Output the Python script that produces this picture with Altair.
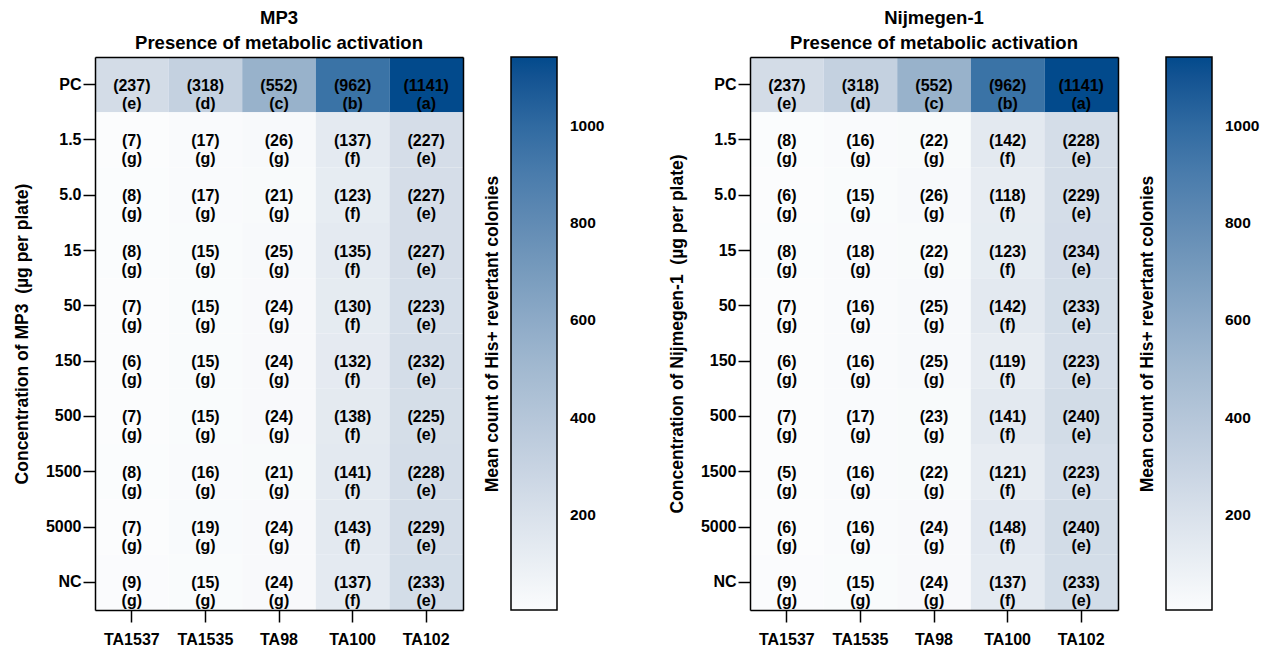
import altair as alt
import pandas as pd

strains = ["TA1537", "TA1535", "TA98", "TA100", "TA102"]
doses = ["PC", "1.5", "5.0", "15", "50", "150", "500", "1500", "5000", "NC"]

mp3_counts = [
    [237, 318, 552, 962, 1141],
    [7, 17, 26, 137, 227],
    [8, 17, 21, 123, 227],
    [8, 15, 25, 135, 227],
    [7, 15, 24, 130, 223],
    [6, 15, 24, 132, 232],
    [7, 15, 24, 138, 225],
    [8, 16, 21, 141, 228],
    [7, 19, 24, 143, 229],
    [9, 15, 24, 137, 233],
]

nij_counts = [
    [237, 318, 552, 962, 1141],
    [8, 16, 22, 142, 228],
    [6, 15, 26, 118, 229],
    [8, 18, 22, 123, 234],
    [7, 16, 25, 142, 233],
    [6, 16, 25, 119, 223],
    [7, 17, 23, 141, 240],
    [5, 16, 22, 121, 223],
    [6, 16, 24, 148, 240],
    [9, 15, 24, 137, 233],
]

pc_letters = ["e", "d", "c", "b", "a"]
dose_letters = ["g", "g", "g", "f", "e"]

color_domain = [5, 230, 552, 962, 1141]
color_range = ["#fbfcfd", "#d4dde8", "#98b2cb", "#3a73a6", "#024a8c"]
legend_values = [200, 400, 600, 800, 1000]

FONT = "Liberation Sans"


def panel(counts, name, substance):
    rows = []
    for i, d in enumerate(doses):
        letters = pc_letters if d == "PC" else dose_letters
        for j, s in enumerate(strains):
            rows.append({
                "dose": d,
                "strain": s,
                "count": counts[i][j],
                "lines": [f"({counts[i][j]})", f"({letters[j]})"],
            })
    df = pd.DataFrame(rows)
    base = alt.Chart(df)
    band = alt.Scale(paddingInner=0, paddingOuter=0)
    x = alt.X(
        "strain:N", sort=strains, scale=band,
        axis=alt.Axis(title=None, labelAngle=0, labelFont=FONT, labelFontSize=16,
                      labelFontWeight="bold", labelColor="black", tickColor="black",
                      tickSize=12, tickWidth=1.5, domain=True, domainColor="black",
                      domainWidth=1.5, labelPadding=9, zindex=1),
    )
    y = alt.Y(
        "dose:N", sort=doses, scale=band,
        axis=alt.Axis(title=f"Concentration of {substance}\u00a0 (µg per plate)",
                      titleFont=FONT, titleFontSize=17.5, titleFontWeight="bold",
                      titleColor="black", titlePadding=14,
                      labelFont=FONT, labelFontSize=16, labelFontWeight="bold",
                      labelColor="black", tickColor="black", tickSize=12,
                      tickWidth=1.5, domain=True, domainColor="black",
                      domainWidth=1.5, labelPadding=2, zindex=1),
    )
    x_top = alt.X("strain:N", sort=strains, scale=band,
                  axis=alt.Axis(orient="top", title="", labels=False, ticks=False,
                                domain=True, domainColor="black", domainWidth=1.5,
                                zindex=1))
    y_right = alt.Y("dose:N", sort=doses, scale=band,
                    axis=alt.Axis(orient="right", title="", labels=False,
                                  ticks=False, domain=True, domainColor="black",
                                  domainWidth=1.5, zindex=1))
    rect = base.mark_rect().encode(
        x=x, y=y,
        color=alt.Color(
            "count:Q",
            scale=alt.Scale(domain=color_domain, range=color_range, clamp=True),
            legend=alt.Legend(
                title="Mean count of His+ revertant colonies",
                orient="right", direction="vertical",
                gradientLength=553, gradientThickness=46,
                gradientStrokeColor="black", gradientStrokeWidth=1.5,
                values=legend_values, format="d",
                titleOrient="left", titleAnchor="middle", titleLimit=700,
                titleFont=FONT, titleFontSize=17.5, titleFontWeight="bold",
                titleColor="black", titlePadding=9,
                labelFont=FONT, labelFontSize=15.5, labelFontWeight="bold",
                labelColor="black", labelOffset=13, labelOverlap=False,
                offset=21,
            ),
        ),
    )
    txt = base.mark_text(dy=1, font=FONT, fontSize=16, fontWeight="bold",
                         color="black", baseline="middle", lineHeight=18).encode(
        x=x_top, y=y_right, text="lines:N")
    return alt.layer(rect, txt).resolve_axis(
        x="independent", y="independent"
    ).properties(
        width=368, height=553,
        title=alt.Title([name, "Presence of metabolic activation"],
                        font=FONT, fontSize=18.5, fontWeight="bold", color="black",
                        anchor="middle", frame="group", offset=5, lineHeight=25),
    )


left = panel(mp3_counts, "MP3", "MP3")
right = panel(nij_counts, "Nijmegen-1", "Nijmegen-1")

chart = alt.hconcat(left, right, spacing=61).resolve_scale(
    color="independent"
).properties(
    padding={"left": 4, "top": 0, "right": 0, "bottom": 0}
).configure_view(
    strokeWidth=0
).configure(font=FONT)

chart.save("out.html", embed_options={"renderer": "svg", "actions": False})
